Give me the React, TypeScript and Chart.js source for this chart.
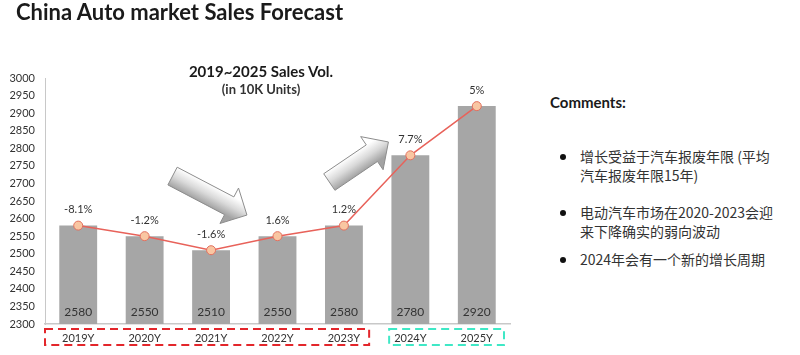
import React, { useEffect, useRef } from 'react';
import { Chart, registerables } from 'chart.js';

Chart.register(...registerables);

const categories = ['2019Y', '2020Y', '2021Y', '2022Y', '2023Y', '2024Y', '2025Y'];
const salesVolume = [2580, 2550, 2510, 2550, 2580, 2780, 2920];
const growthLabels = ['-8.1%', '-1.2%', '-1.6%', '1.6%', '1.2%', '7.7%', '5%'];
const yMin = 2300;
const yMax = 3000;
const yStep = 50;
const groupBoxes = [
  { from: 0, to: 4, color: '#e3262b', insetL: 0, insetR: 8 },
  { from: 5, to: 6, color: '#3fe8c6', insetL: 12, insetR: 6 },
];
// trend arrows in data space (category index, value)
const trendArrows = [
  { x0: 1.42, y0: 2721, x1: 2.54, y1: 2610 },
  { x0: 3.78, y0: 2704, x1: 4.67, y1: 2818 },
];
const comments = [
  ['增长受益于汽车报废年限 (平均', '汽车报废年限15年)'],
  ['电动汽车市场在2020-2023会迎', '来下降确实的弱向波动'],
  ['2024年会有一个新的增长周期'],
];

const FONT = 'Lato, "Noto Sans CJK SC", sans-serif';

function drawArrow(ctx: CanvasRenderingContext2D, x0: number, y0: number, x1: number, y1: number) {
  const dx = x1 - x0;
  const dy = y1 - y0;
  const L = Math.hypot(dx, dy);
  const ux = dx / L;
  const uy = dy / L;
  let nx = -uy;
  let ny = ux;
  if (ny > 0) { nx = -nx; ny = -ny; }
  const sw = 10, hw = 20, hl = 20;
  const bx = x1 - ux * hl;
  const by = y1 - uy * hl;
  const pts = [
    [x0 + nx * sw, y0 + ny * sw],
    [bx + nx * sw, by + ny * sw],
    [bx + nx * hw, by + ny * hw],
    [x1, y1],
    [bx - nx * hw, by - ny * hw],
    [bx - nx * sw, by - ny * sw],
    [x0 - nx * sw, y0 - ny * sw],
  ];
  const cx = (x0 + x1) / 2;
  const cy = (y0 + y1) / 2;
  const g = ctx.createLinearGradient(cx + nx * sw, cy + ny * sw, cx - nx * sw, cy - ny * sw);
  g.addColorStop(0, '#ffffff');
  g.addColorStop(0.5, '#d9d9d9');
  g.addColorStop(1, '#a3a3a3');
  ctx.save();
  ctx.beginPath();
  pts.forEach((p, i) => (i === 0 ? ctx.moveTo(p[0], p[1]) : ctx.lineTo(p[0], p[1])));
  ctx.closePath();
  ctx.fillStyle = g;
  ctx.fill();
  ctx.strokeStyle = '#8c8c8c';
  ctx.lineWidth = 1;
  ctx.stroke();
  ctx.restore();
}

const overlayPlugin = {
  id: 'overlay',
  afterDatasetsDraw(chart: any) {
    const ctx: CanvasRenderingContext2D = chart.ctx;
    const xs = chart.scales.x;
    const ys = chart.scales.y;
    trendArrows.forEach((a) =>
      drawArrow(ctx, xs.getPixelForValue(a.x0), ys.getPixelForValue(a.y0), xs.getPixelForValue(a.x1), ys.getPixelForValue(a.y1))
    );
    const barMeta = chart.getDatasetMeta(0);
    const lineMeta = chart.getDatasetMeta(1);
    ctx.save();
    ctx.textAlign = 'center';
    ctx.textBaseline = 'middle';
    ctx.fillStyle = '#333333';
    ctx.font = '12px ' + FONT;
    barMeta.data.forEach((el: any, i: number) => {
      ctx.fillText(String(salesVolume[i]), el.x, ys.bottom - 12);
    });
    ctx.font = '11px ' + FONT;
    lineMeta.data.forEach((el: any, i: number) => {
      ctx.fillText(growthLabels[i], el.x, el.y - 16);
    });
    ctx.lineWidth = 2;
    ctx.setLineDash([8, 5]);
    groupBoxes.forEach((b) => {
      const l = xs.getPixelForValue(b.from - 0.5) + b.insetL;
      const r = xs.getPixelForValue(b.to + 0.5) - b.insetR;
      ctx.strokeStyle = b.color;
      ctx.strokeRect(l, xs.top + 5, r - l, 16);
    });
    ctx.restore();
  },
};

export default function App() {
  const ref = useRef<HTMLCanvasElement | null>(null);
  useEffect(() => {
    document.body.style.margin = '0';
    const chart = new Chart(ref.current as HTMLCanvasElement, {
      type: 'bar',
      data: {
        labels: categories,
        datasets: [
          {
            type: 'bar',
            data: salesVolume,
            backgroundColor: '#a6a6a6',
            categoryPercentage: 0.57,
            barPercentage: 1,
            order: 2,
          } as any,
          {
            type: 'line',
            data: salesVolume,
            borderColor: '#e8625a',
            borderWidth: 1.5,
            pointRadius: 4.5,
            pointBackgroundColor: '#f9c6a2',
            pointBorderColor: '#e2705f',
            pointBorderWidth: 1,
            tension: 0,
            order: 1,
          } as any,
        ],
      },
      options: {
        animation: false,
        responsive: false,
        layout: { padding: { top: 78, right: 20, left: 0, bottom: 0 } },
        plugins: { legend: { display: false }, tooltip: { enabled: false } },
        scales: {
          x: {
            grid: { display: false, drawTicks: false },
            border: { display: true, color: '#c8c8c8', width: 1.5 },
            ticks: { color: '#333333', font: { size: 11, family: FONT }, padding: 8 },
            afterFit: (s: any) => { s.height = 31; },
          },
          y: {
            min: yMin,
            max: yMax,
            grid: { display: false, drawTicks: false },
            border: { display: true, color: '#c8c8c8', width: 1 },
            ticks: {
              stepSize: yStep,
              color: '#333333',
              font: { size: 11, family: FONT },
              padding: 10,
              callback: (v: any) => String(v),
            },
            afterFit: (s: any) => { s.width = 45; },
          },
        },
      } as any,
      plugins: [overlayPlugin],
    });
    return () => chart.destroy();
  }, []);

  return (
    <div style={{ position: 'relative', width: 800, height: 355, overflow: 'hidden', background: '#fff', fontFamily: FONT, color: '#1a1a1a' }}>
      <canvas ref={ref} width={530} height={355} style={{ position: 'absolute', left: 0, top: 0 }} />
      <div style={{ position: 'absolute', left: 16, top: -2, fontSize: 22, fontWeight: 700, whiteSpace: 'nowrap' }}>
        China Auto market Sales Forecast
      </div>
      <div style={{ position: 'absolute', left: 161, width: 200, top: 62, textAlign: 'center', lineHeight: '18px' }}>
        <div style={{ fontSize: 15, fontWeight: 700 }}>2019~2025 Sales Vol.</div>
        <div style={{ fontSize: 13, fontWeight: 700, color: '#333' }}>(in 10K Units)</div>
      </div>
      <div style={{ position: 'absolute', left: 550, top: 93, fontSize: 15, fontWeight: 700 }}>Comments:</div>
      {comments.map((lines, i) => (
        <div key={i} style={{ position: 'absolute', left: 560, top: [147, 203, 250][i], fontSize: 14, lineHeight: '19px', color: '#333', fontFamily: '"Noto Sans CJK SC", Lato, sans-serif', display: 'flex' }}>
          <span style={{ width: 20, display: 'flex', paddingTop: 7 }}>
            <span style={{ width: 6, height: 6, borderRadius: 3, background: '#111', display: 'block' }} />
          </span>
          <span>
            {lines.map((t, j) => (
              <div key={j} style={{ whiteSpace: 'nowrap' }}>{t}</div>
            ))}
          </span>
        </div>
      ))}
    </div>
  );
}
